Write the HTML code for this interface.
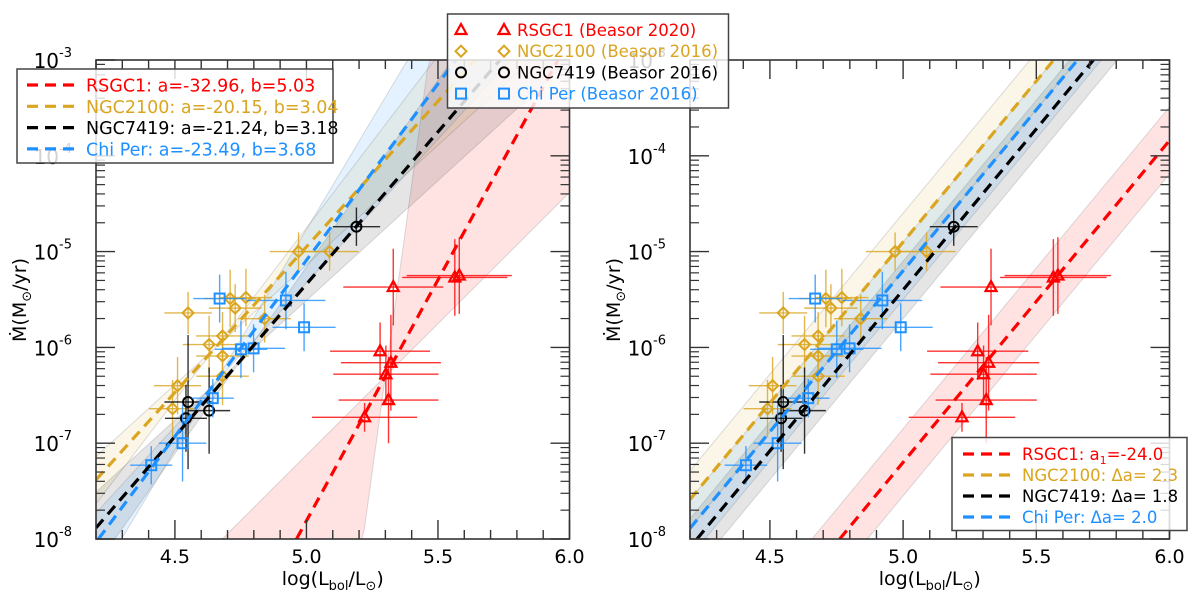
<!DOCTYPE html>
<html><head><meta charset="utf-8"><style>
html,body{margin:0;padding:0;background:#fff;width:1200px;height:600px;overflow:hidden;}
svg{display:block;font-family:"DejaVu Sans","Liberation Sans",sans-serif;}
</style></head><body>
<svg id="chart" width="1200" height="600" viewBox="0 0 1200 600" xmlns="http://www.w3.org/2000/svg">
<defs>
<clipPath id="clipL"><rect x="96" y="60" width="473.5" height="479"/></clipPath>
<clipPath id="clipR"><rect x="690" y="60" width="479.5" height="479"/></clipPath>
</defs>
</svg>
<script>
// ---- data (log L, log Mdot) ----
const rsgcX = [5.330, 5.564, 5.581, 5.280, 5.302, 5.321, 5.312, 5.221];
const rsgcY = [-5.37, -5.27, -5.25, -6.04, -6.28, -6.16, -6.55, -6.73];
const rsgcXerr = [0.19, 0.2, 0.2, 0.19, 0.2, 0.19, 0.19, 0.2];
const rsgcYerr = [0.4, 0.4, 0.4, 0.3, 0.3, 0.5, 0.45, 0.15];
const ngc2100X = [4.97, 5.088, 4.71, 4.77, 4.729, 4.55, 4.841, 4.681, 4.63, 4.681, 4.681, 4.51, 4.491];
const ngc2100Y = [-5.0, -5.0, -5.49, -5.48, -5.59, -5.64, -5.70, -5.88, -5.97, -6.09, -6.30, -6.40, -6.64];
const ngc2100Xerr = [0.11, 0.11, 0.1, 0.1, 0.1, 0.09, 0.1, 0.1, 0.1, 0.1, 0.1, 0.09, 0.09];
const ngc2100Yerr = [0.2, 0.2, 0.3, 0.3, 0.25, 0.22, 0.25, 0.25, 0.3, 0.25, 0.3, 0.3, 0.3];
const ngc7419X = [4.55, 4.63, 4.542, 5.19];
const ngc7419Y = [-6.57, -6.66, -6.74, -4.74];
const ngc7419Xerr = [0.09, 0.08, 0.08, 0.09];
const ngc7419Yerr = [0.7, 0.45, 0.35, 0.2];
const chiX = [4.670, 4.922, 4.991, 4.751, 4.799, 4.644, 4.529, 4.41];
const chiY = [-5.49, -5.51, -5.79, -6.02, -6.01, -6.53, -7.0, -7.23];
const chiXerr = [0.1, 0.15, 0.12, 0.1, 0.12, 0.08, 0.09, 0.08];
const chiYerr = [0.25, 0.3, 0.25, 0.3, 0.25, 0.2, 0.4, 0.2];
// fits: log Mdot = a + b log L
const fitNames = ["RSGC1", "NGC2100", "NGC7419", "Chi Per"];
const fitA = [-32.96, -20.15, -21.24, -23.49];
const fitB = [5.03, 3.04, 3.18, 3.68];
const fitPivot = [5.30, 4.65, 4.75, 4.65];
const bandSlopeLo = [2.74, 2.5, 2.5, 3.0];
const bandSlopeHi = [20, 3.6, 3.9, 4.6];
const fixA1 = -24.0, fixB = 3.36;
const deltaA = [0, 2.3, 1.8, 2.0];
const bandHalf = [0.35, 0.3, 0.3, 0.3];
const xTicks = [4.5, 5.0, 5.5, 6.0];
const xTickLabels = ["4.5", "5.0", "5.5", "6.0"];
const yDecades = [-3, -4, -5, -6, -7, -8];

const colors = ["#ff0000", "#daa520", "#000000", "#1e90ff"];
const fills = ["rgba(255,0,0,0.11)", "rgba(218,165,32,0.1)", "rgba(0,0,0,0.1)", "rgba(30,144,255,0.12)"];
const NS = "http://www.w3.org/2000/svg";
const svg = document.getElementById("chart");
function mk(tag, attrs, parent) { const e = document.createElementNS(NS, tag); for (const k in attrs) e.setAttribute(k, attrs[k]); (parent || svg).appendChild(e); return e; }
const clampY = v => Math.max(-8, Math.min(-3, v));

function makePanel(p) {
  const X = v => p.x0 + (v - 4.2) * (p.x1 - p.x0) / 1.8;
  const Y = v => 60 + (-3 - v) * (539 - 60) / 5;
  const g = mk("g", {});
  
  
  const clip = mk("g", { "clip-path": "url(#" + p.clip + ")" }, g);
  for (let i = 0; i < 4; i++) {
    let up = [], lo = [];
    const sx = [];
    for (let k = 0; k <= 180; k++) sx.push(4.2 + k * 0.01);
    sx.forEach(x => {
      let u, l;
      if (p.fixed) { const c = fixA1 + deltaA[i] + fixB * x; u = c + bandHalf[i]; l = c - bandHalf[i]; }
      else { const py = fitA[i] + fitB[i] * fitPivot[i]; const a1 = py + bandSlopeLo[i] * (x - fitPivot[i]); const a2 = py + bandSlopeHi[i] * (x - fitPivot[i]); u = Math.max(a1, a2); l = Math.min(a1, a2); }
      up.push(X(x).toFixed(1) + "," + Y(clampY(u)).toFixed(1)); lo.unshift(X(x).toFixed(1) + "," + Y(clampY(l)).toFixed(1));
    });
    const b = mk("polygon", { points: up.concat(lo).join(" "), fill: fills[i], stroke: "rgba(120,120,120,0.25)", "stroke-width": 1 }, clip);
    
    
  }
  const series = [
    [rsgcX, rsgcY, rsgcXerr, rsgcYerr, "tri", 0, "rsgc1"],
    [ngc2100X, ngc2100Y, ngc2100Xerr, ngc2100Yerr, "dia", 1, "ngc2100"],
    [ngc7419X, ngc7419Y, ngc7419Xerr, ngc7419Yerr, "circ", 2, "ngc7419"],
    [chiX, chiY, chiXerr, chiYerr, "sq", 3, "chi-per"]];
  series.forEach(s => {
    const sg = mk("g", {}, clip);
    
    
    const c = colors[s[5]];
    s[0].forEach((xv, j) => {
      const cx = X(xv), cy = Y(s[1][j]);
      mk("line", { x1: X(xv - s[2][j]), x2: X(xv + s[2][j]), y1: cy, y2: cy, stroke: c, "stroke-width": 1.4, opacity: 0.8 }, sg);
      mk("line", { x1: cx, x2: cx, y1: Y(s[1][j] + s[3][j]), y2: Y(s[1][j] - s[3][j]), stroke: c, "stroke-width": 1.4, opacity: 0.8 }, sg);
      drawMarker(sg, s[4], cx, cy, c);
    });
  });
  for (let i = 0; i < 4; i++) {
    const a = p.fixed ? fixA1 + deltaA[i] : fitA[i], bb = p.fixed ? fixB : fitB[i];
    const xs = Math.max(4.2, (-8 - a) / bb), xe = Math.min(6.0, (-3 - a) / bb);
    const l = mk("line", { x1: X(xs), y1: Y(a + bb * xs), x2: X(xe), y2: Y(a + bb * xe), stroke: colors[i], "stroke-width": 3.2, "stroke-dasharray": "11,7" }, clip);
    
    
  }
  mk("rect", { x: p.x0, y: 60, width: p.x1 - p.x0, height: 479, fill: "none", stroke: "#333", "stroke-width": 1.6 }, g);
  for (let k = 0; k <= 18; k++) {
    const v = 4.2 + k * 0.1; const xx = X(v);
    const major = Math.abs(v * 2 - Math.round(v * 2)) < 1e-6;
    const len = major ? 19 : 9;
    mk("line", { x1: xx, x2: xx, y1: 539, y2: 539 - len, stroke: "#333", "stroke-width": 1.4 }, g);
    mk("line", { x1: xx, x2: xx, y1: 60, y2: 60 + len, stroke: "#333", "stroke-width": 1.4 }, g);
  }
  xTicks.forEach((v, j) => { const t = mk("text", { x: X(v), y: 563, "font-size": 19, "text-anchor": "middle", fill: "#000" }, g); t.textContent = xTickLabels[j];   });
  yDecades.forEach(d => {
    const yy = Y(d);
    mk("line", { x1: p.x0, x2: p.x0 + 19, y1: yy, y2: yy, stroke: "#333", "stroke-width": 1.4 }, g);
    mk("line", { x1: p.x1, x2: p.x1 - 19, y1: yy, y2: yy, stroke: "#333", "stroke-width": 1.4 }, g);
    if (d > -8) for (let m = 2; m <= 9; m++) {
      const ym = Y(d - 1 + Math.log10(m));
      mk("line", { x1: p.x0, x2: p.x0 + 9, y1: ym, y2: ym, stroke: "#333", "stroke-width": 1.2 }, g);
      mk("line", { x1: p.x1, x2: p.x1 - 9, y1: ym, y2: ym, stroke: "#333", "stroke-width": 1.2 }, g);
    }
    const t = mk("text", { x: p.x0 - 24, y: yy + 8, "font-size": 20, "text-anchor": "end", fill: "#000" }, g);
    
    
    t.appendChild(document.createTextNode("10"));
    const sp = mk("tspan", { dy: -11, "font-size": 13 }, t); sp.textContent = String(d);
  });
  const xt = mk("text", { x: (p.x0 + p.x1) / 2, y: 585, "font-size": 19, "text-anchor": "middle" }, g);
   
  xt.innerHTML = 'log(L<tspan dy="5" font-size="13">bol</tspan><tspan dy="-5">/L</tspan><tspan dy="5" font-size="13">⊙</tspan><tspan dy="-5">)</tspan>';
  const yt = mk("text", { x: 0, y: 0, "font-size": 19, "text-anchor": "middle", transform: "translate(" + (p.x0 - 70) + ",300) rotate(-90)" }, g);
   
  yt.innerHTML = 'Ṁ(M<tspan dy="5" font-size="13">⊙</tspan><tspan dy="-5">/yr)</tspan>';
}
function drawMarker(par, type, cx, cy, c) {
  if (type === "tri") mk("polygon", { points: `${cx},${cy - 6} ${cx - 5.5},${cy + 4} ${cx + 5.5},${cy + 4}`, fill: "none", stroke: c, "stroke-width": 2.2 }, par);
  else if (type === "dia") mk("polygon", { points: `${cx},${cy - 5.5} ${cx + 5.5},${cy} ${cx},${cy + 5.5} ${cx - 5.5},${cy}`, fill: "none", stroke: c, "stroke-width": 2 }, par);
  else if (type === "circ") mk("circle", { cx: cx, cy: cy, r: 5, fill: "none", stroke: c, "stroke-width": 2 }, par);
  else mk("rect", { x: cx - 5, y: cy - 5, width: 10, height: 10, fill: "none", stroke: c, "stroke-width": 2 }, par);
}
makePanel({ name: "left-panel", x0: 96, x1: 569.5, clip: "clipL", fixed: false });
makePanel({ name: "right-panel", x0: 690, x1: 1169.5, clip: "clipR", fixed: true });

function legendBox(name, x, y, w, h) { const r = mk("rect", { x: x, y: y, width: w, height: h, fill: "rgba(255,255,255,0.82)", stroke: "#444", "stroke-width": 1.5 });   }
legendBox("fit-legend-left", 17, 69, 316, 94);
const leftLabels = ["RSGC1: a=-32.96, b=5.03", "NGC2100: a=-20.15, b=3.04", "NGC7419: a=-21.24, b=3.18", "Chi Per: a=-23.49, b=3.68"];
leftLabels.forEach((s, i) => {
  const y = 85 + i * 21.3;
  const l = mk("line", { x1: 27, x2: 76, y1: y, y2: y, stroke: colors[i], "stroke-width": 3.2, "stroke-dasharray": "11,7" });
   
  const t = mk("text", { x: 86, y: y + 6.5, "font-size": 17.5, fill: colors[i] }); t.textContent = s;
   
});
legendBox("marker-legend", 447.5, 14, 281, 94);
const topLabels = ["RSGC1 (Beasor 2020)", "NGC2100 (Beasor 2016)", "NGC7419 (Beasor 2016)", "Chi Per (Beasor 2016)"];
const mTypes = ["tri", "dia", "circ", "sq"];
topLabels.forEach((s, i) => {
  const y = 30 + i * 21.2;
  drawMarker(svg, mTypes[i], 461, y, colors[i]);
  drawMarker(svg, mTypes[i], 504, y, colors[i]);
  const t = mk("text", { x: 517, y: y + 6, "font-size": 16.5, fill: colors[i] }); t.textContent = s;
   
});
legendBox("fit-legend-right", 952, 437.5, 235, 93);
const rightLabels = ['RSGC1: a<tspan dy="4" font-size="11">1</tspan><tspan dy="-4">=-24.0</tspan>', "NGC2100: Δa= 2.3", "NGC7419: Δa= 1.8", "Chi Per: Δa= 2.0"];
rightLabels.forEach((s, i) => {
  const y = 454 + i * 21;
  const l = mk("line", { x1: 963, x2: 1012, y1: y, y2: y, stroke: colors[i], "stroke-width": 3.2, "stroke-dasharray": "11,7" });
   
  const t = mk("text", { x: 1022, y: y + 6, "font-size": 16.5, fill: colors[i] }); t.innerHTML = s;
   
});
</script>
</body></html>
